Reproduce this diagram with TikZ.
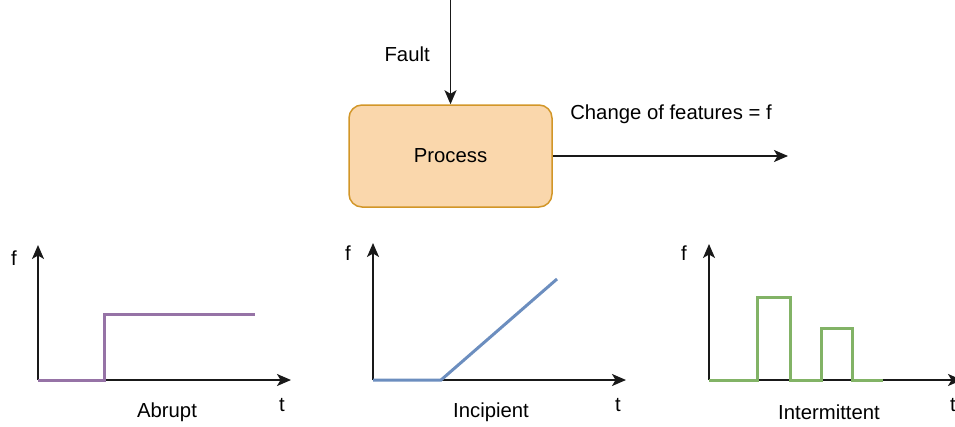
\documentclass[tikz,border=0pt]{standalone}
\usepackage{fontspec}
\setmainfont{Liberation Sans}
\usetikzlibrary{arrows.meta}
\definecolor{processfill}{RGB}{250,215,172}
\definecolor{processline}{RGB}{210,150,40}
\definecolor{abruptline}{RGB}{150,115,166}
\definecolor{incipientline}{RGB}{108,142,191}
\definecolor{intermittentline}{RGB}{130,179,102}
\definecolor{axisline}{RGB}{25,25,25}
\tikzstyle{every node}=[font=\fontsize{20.3}{24}\selectfont, inner sep=0pt]
\tikzstyle{flow}=[line width=1.6pt, draw=axisline, -{Stealth[length=14pt,width=12pt,inset=3.5pt]}]
\tikzstyle{signal}=[line width=3pt, line join=miter]
\tikzstyle{processbox}=[draw=processline, fill=processfill, line width=1.5pt, rounded corners=13pt,
    minimum width=203pt, minimum height=102pt]

\begin{document}
\begin{tikzpicture}[x=1pt, y=-1pt]
    \useasboundingbox (0,0) rectangle (955,426);

    % process block
    \node[processbox] (process) at (450.5,156) {Process};
    \coordinate (faultsrc) at (450.5,0);
    \coordinate (featureout) at (788,156);
    \draw[flow] (faultsrc) -- (process.north)
        node[pos=0.52, left=20pt] (faultlabel) {Fault};
    \draw[flow] (process.east) -- (featureout);
    \node (featurelabel) at (671,114) {Change of features = f};

    % abrupt
    \coordinate (abrupt-o) at (38,380);
    \coordinate (abrupt-f) at (38,245);
    \coordinate (abrupt-t) at (291,380);
    \draw[flow] (abrupt-o) -- (abrupt-f);
    \draw[flow] (abrupt-o) -- (abrupt-t);
    \draw[signal, abruptline] (abrupt-o) -- (104,380) -- (104,314) -- (255,314);
    \node (abrupt-flabel) at (14,258) {f};
    \node (abrupt-tlabel) at (282,405) {t};
    \node (abrupt-name) at (167,412) {Abrupt};

    % incipient
    \coordinate (incipient-o) at (373,380);
    \coordinate (incipient-f) at (373,243);
    \coordinate (incipient-t) at (626,380);
    \draw[flow] (incipient-o) -- (incipient-f);
    \draw[flow] (incipient-o) -- (incipient-t);
    \draw[signal, incipientline] (incipient-o) -- (441,380) -- (557,279);
    \node (incipient-flabel) at (348,253) {f};
    \node (incipient-tlabel) at (618,405) {t};
    \node (incipient-name) at (491,412) {Incipient};

    % intermittent
    \coordinate (intermittent-o) at (709,380);
    \coordinate (intermittent-f) at (709,244);
    \coordinate (intermittent-t) at (962,380);
    \draw[flow] (intermittent-o) -- (intermittent-f);
    \draw[flow] (intermittent-o) -- (intermittent-t);
    \draw[signal, intermittentline] (intermittent-o) -- (757,380) -- (757,297) -- (790,297)
        -- (790,380) -- (821,380) -- (821,328) -- (852,328) -- (852,380) -- (883,380);
    \node (intermittent-flabel) at (684,253) {f};
    \node (intermittent-tlabel) at (953,405) {t};
    \node (intermittent-name) at (829,412) {Intermittent};
\end{tikzpicture}
\end{document}
